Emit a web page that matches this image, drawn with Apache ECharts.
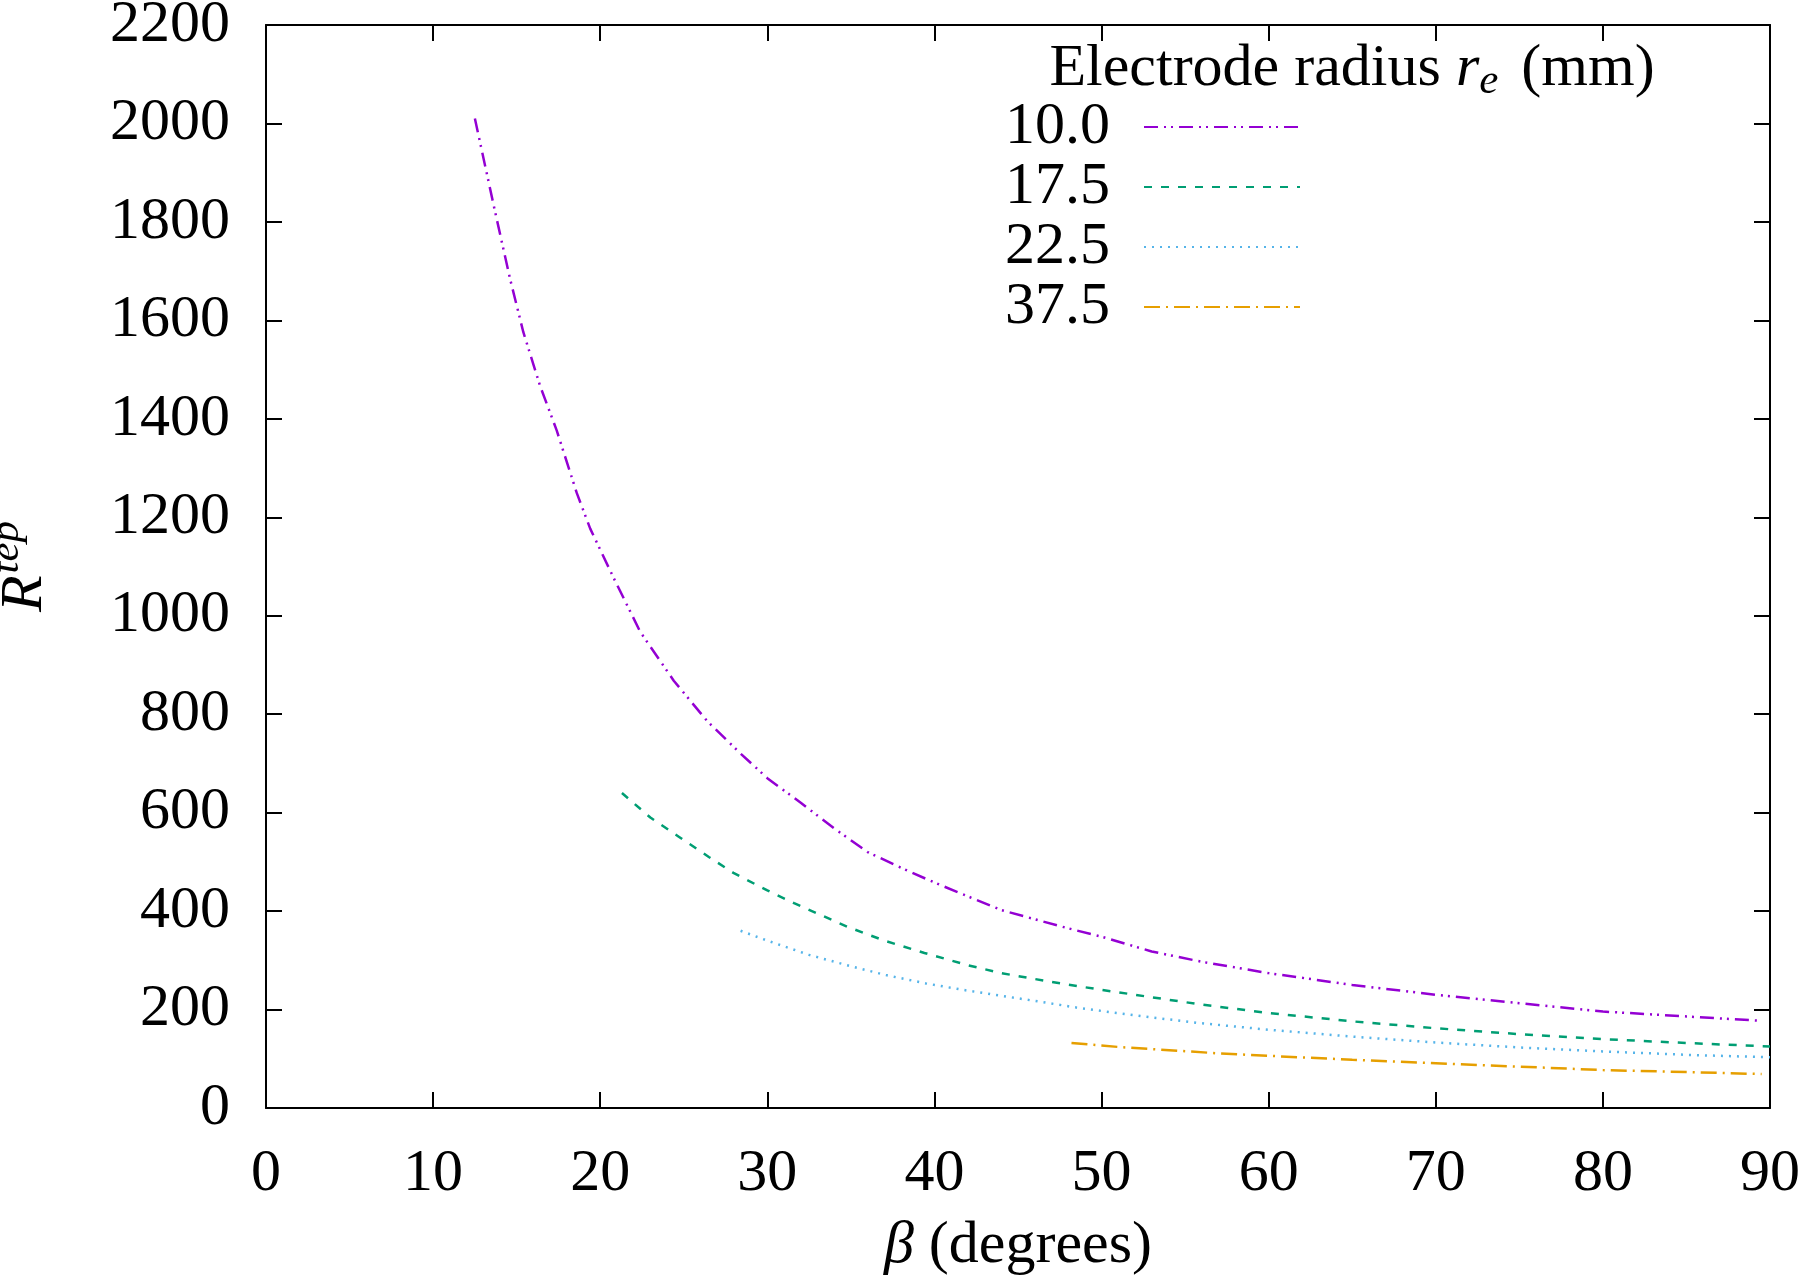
<!DOCTYPE html>
<html>
<head>
<meta charset="utf-8">
<script src="https://cdn.jsdelivr.net/npm/echarts@6/dist/echarts.min.js"></script>
<style>
html,body{margin:0;padding:0;background:#fff;}
#chart{width:1800px;height:1284px;}
</style>
</head>
<body>
<div id="chart"></div>
<script>
const seriesNames = ['10.0', '17.5', '22.5', '37.5'];
const seriesColors = ['#9400d3', '#009e73', '#56b4e9', '#e69f00'];
const xTicks = [0, 10, 20, 30, 40, 50, 60, 70, 80, 90];
const yTicks = [0, 200, 400, 600, 800, 1000, 1200, 1400, 1600, 1800, 2000, 2200];

const r10 = [
  [12.5, 2010], [13.7, 1822], [14.6, 1685], [15.4, 1576], [16.4, 1467], [17.4, 1376],
  [18.6, 1249], [19.4, 1177], [20.8, 1077], [22.4, 967], [24.4, 868], [26.4, 786],
  [28.4, 720], [30, 670], [32, 620], [34, 568], [36, 520], [38, 488], [40, 458],
  [44, 402], [48, 365], [50, 348], [53, 318], [56, 297], [60, 274], [65, 250],
  [70, 230], [75, 213], [80, 196], [85, 186], [89.5, 177]
];
const r175 = [
  [21.3, 640], [23, 590], [24.7, 551], [26.5, 510], [28, 477], [30, 442], [31.6, 416],
  [34.8, 368], [37, 340], [39.4, 315], [42, 290], [44, 274], [47, 256], [50, 240],
  [53, 225], [56, 210], [60, 193], [65, 176], [70, 162], [75, 150], [80, 140],
  [85, 132], [90, 125]
];
const r225 = [
  [28.4, 360], [30, 340], [32.5, 311], [35, 288], [37.1, 270], [39.5, 253], [41.7, 240],
  [44, 228], [46.3, 216], [48.5, 204], [50.9, 193], [53, 184], [56, 172], [60, 159],
  [65, 145], [70, 133], [75, 123], [80, 115], [85, 108], [90, 103]
];
const r375 = [
  [48.2, 132], [51, 124], [54.7, 116], [57, 111], [60, 106], [65, 98], [70, 91],
  [75, 84], [80, 77], [85, 73], [89.5, 69]
];
const seriesData = [r10, r175, r225, r375];
const dashes = [
  [14, 6, 2, 5, 2, 6],
  [8, 9],
  [2, 6],
  [16, 6, 2, 6]
];

const FONT = 'Liberation Serif';
const FS = 60;

const chart = echarts.init(document.getElementById('chart'), null, {renderer: 'canvas'});

function axisBase() {
  return {
    min: 0,
    axisLine: {show: true, onZero: false, lineStyle: {color: '#000', width: 2}},
    axisTick: {show: true, inside: true, length: 16, lineStyle: {color: '#000', width: 2}},
    splitLine: {show: false}
  };
}

const option = {
  animation: false,
  backgroundColor: '#fff',
  grid: {left: 266, right: 30, top: 25, bottom: 176, containLabel: false, outerBoundsMode: 'none'},
  xAxis: [
    Object.assign(axisBase(), {
      type: 'value', position: 'bottom', max: 90, interval: 10,
      axisLabel: {show: true, margin: 36, fontFamily: FONT, fontSize: FS, color: '#000',
        formatter: v => xTicks.includes(v) ? String(v) : ''},
      name: '{i|β} (degrees)',
      nameLocation: 'middle',
      nameGap: 108,
      nameTextStyle: {fontFamily: FONT, fontSize: FS, color: '#000',
        rich: {i: {fontFamily: FONT, fontSize: FS, fontStyle: 'italic', color: '#000'}}}
    }),
    Object.assign(axisBase(), {
      type: 'value', position: 'top', max: 90, interval: 10,
      axisLabel: {show: false}
    })
  ],
  yAxis: [
    Object.assign(axisBase(), {
      type: 'value', position: 'left', max: 2200, interval: 200,
      axisLabel: {show: true, margin: 36, fontFamily: FONT, fontSize: FS, color: '#000',
        formatter: v => yTicks.includes(v) ? String(v) : ''},
      name: '{r|R}{s|tep}',
      nameLocation: 'middle',
      nameGap: 200,
      nameTextStyle: {fontFamily: FONT, fontSize: FS, color: '#000',
        rich: {
          r: {fontFamily: FONT, fontSize: FS, fontStyle: 'italic', color: '#000'},
          s: {fontFamily: FONT, fontSize: 43, fontStyle: 'italic', color: '#000', padding: [0, 0, 38, 2]}
        }}
    }),
    Object.assign(axisBase(), {
      type: 'value', position: 'right', max: 2200, interval: 200,
      axisLabel: {show: false}
    })
  ],
  legend: {
    show: true,
    orient: 'vertical',
    align: 'right',
    right: 499,
    top: 97,
    padding: 0,
    itemGap: 0,
    itemWidth: 156,
    itemHeight: 14,
    data: seriesNames,
    itemStyle: {opacity: 0},
    textStyle: {fontFamily: FONT, fontSize: FS, color: '#000', lineHeight: 59, padding: [0, 29, 0, 0]}
  },
  graphic: [{
    type: 'text',
    x: 1352,
    y: 69,
    style: {
      text: 'Electrode radius {i|r}{sub|e} (mm)',
      align: 'center',
      verticalAlign: 'middle',
      fontFamily: FONT,
      fontSize: FS,
      fill: '#000',
      rich: {
        i: {fontFamily: FONT, fontSize: FS, fontStyle: 'italic', fill: '#000'},
        sub: {fontFamily: FONT, fontSize: 43, fontStyle: 'italic', fill: '#000', padding: [26, 8, 0, 0]}
      }
    }
  }],
  series: seriesNames.map((name, i) => ({
    name: name,
    type: 'line',
    xAxisIndex: 0,
    yAxisIndex: 0,
    data: seriesData[i],
    showSymbol: false,
    symbol: 'none',
    smooth: false,
    color: seriesColors[i],
    lineStyle: {color: seriesColors[i], width: 2.5, type: dashes[i], cap: 'butt'},
    z: 3
  }))
};

chart.setOption(option);
</script>
</body>
</html>
